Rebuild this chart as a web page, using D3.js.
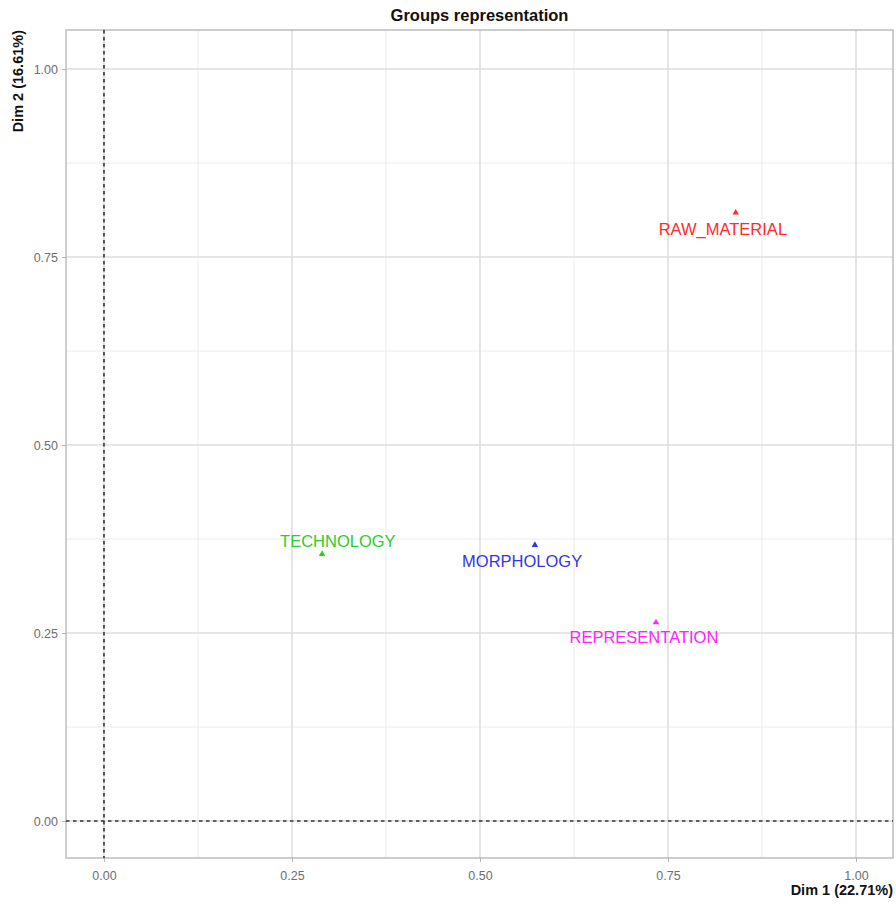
<!DOCTYPE html>
<html><head><meta charset="utf-8">
<script src="https://cdn.jsdelivr.net/npm/d3@7"></script>
<style>body{margin:0;background:#fff}</style>
</head><body>
<script>
const groups = ["RAW_MATERIAL","TECHNOLOGY","MORPHOLOGY","REPRESENTATION"];
const dim1 = [0.840, 0.290, 0.573, 0.734];
const dim2 = [0.809, 0.355, 0.367, 0.264];
const colors = ["#ff2a2a","#2ecc2e","#3333ee","#ff22ff"];
// label offsets (repel-like) in data units
const labelDx = [-0.017, 0.021, -0.017, -0.016];
const labelDy = [-0.022, 0.017, -0.022, -0.019];
const ticks = [0, 0.25, 0.5, 0.75, 1];
const minorTicks = [0.125, 0.375, 0.625, 0.875];
const tickLabels = ["0.00","0.25","0.50","0.75","1.00"];

const W = 896, H = 907;
const svg = d3.select("body").append("svg").attr("width", W).attr("height", H)
  .style("font-family","Arial, 'Liberation Sans', sans-serif");
const L = 66, R = 893, T = 30, B = 858;
const x = d3.scaleLinear().domain([-0.0505, 1.0492]).range([L, R]);
const y = d3.scaleLinear().domain([-0.0492, 1.0519]).range([B, T]);

const g = svg.append("g");
// minor grid
g.selectAll(".mx").data(minorTicks).enter().append("line")
  .attr("x1", d=>x(d)).attr("x2", d=>x(d)).attr("y1", T).attr("y2", B)
  .attr("stroke", "#ececec").attr("stroke-width", 1);
g.selectAll(".my").data(minorTicks).enter().append("line")
  .attr("y1", d=>y(d)).attr("y2", d=>y(d)).attr("x1", L).attr("x2", R)
  .attr("stroke", "#ececec").attr("stroke-width", 1);
// major grid
g.selectAll(".Mx").data(ticks).enter().append("line")
  .attr("x1", d=>x(d)).attr("x2", d=>x(d)).attr("y1", T).attr("y2", B)
  .attr("stroke", "#dedede").attr("stroke-width", 1.6);
g.selectAll(".My").data(ticks).enter().append("line")
  .attr("y1", d=>y(d)).attr("y2", d=>y(d)).attr("x1", L).attr("x2", R)
  .attr("stroke", "#dedede").attr("stroke-width", 1.6);

// panel border
svg.append("rect").attr("x", L).attr("y", T).attr("width", R-L).attr("height", B-T)
  .attr("fill","none").attr("stroke","#b3b3b3").attr("stroke-width",1.3);

// dashed zero lines
svg.append("line").attr("x1", x(0)).attr("x2", x(0)).attr("y1", T).attr("y2", B)
  .attr("stroke","#333").attr("stroke-width",1.6).attr("stroke-dasharray","3.5,3.5");
svg.append("line").attr("y1", y(0)).attr("y2", y(0)).attr("x1", L).attr("x2", R)
  .attr("stroke","#333").attr("stroke-width",1.6).attr("stroke-dasharray","3.5,3.5");

// axes
const fmt = d => tickLabels[ticks.indexOf(d)];
const xAxis = svg.append("g").attr("transform", `translate(0,${B})`)
  .call(d3.axisBottom(x).tickValues(ticks).tickFormat(fmt).tickSize(4).tickPadding(9));
const yAxis = svg.append("g").attr("transform", `translate(${L},0)`)
  .call(d3.axisLeft(y).tickValues(ticks).tickFormat(fmt).tickSize(4).tickPadding(4));
[xAxis, yAxis].forEach(a => {
  a.select(".domain").remove();
  a.selectAll(".tick line").attr("stroke","#b3b3b3");
  a.selectAll(".tick text").attr("fill","#6e6e6e").style("font-size","12.5px").style("font-family","Arial, 'Liberation Sans', sans-serif");
});

// title
svg.append("text").attr("x", (L+R)/2).attr("y", 21).attr("text-anchor","middle")
  .style("font-weight","bold").style("font-size","16.5px").attr("fill","#111").text("Groups representation");
svg.append("text").attr("x", R).attr("y", 895).attr("text-anchor","end")
  .style("font-weight","bold").style("font-size","14.5px").attr("fill","#111").text("Dim 1 (22.71%)");
svg.append("text").attr("transform", `translate(23,${T}) rotate(-90)`).attr("text-anchor","end")
  .style("font-weight","bold").style("font-size","14.5px").attr("fill","#111").text("Dim 2 (16.61%)");

// points
const sym = d3.symbol().type(d3.symbolTriangle).size(18);
svg.selectAll(".pt").data(groups).enter().append("path")
  .attr("d", sym).attr("transform", (d,i)=>`translate(${x(dim1[i])},${y(dim2[i])})`)
  .attr("fill", (d,i)=>colors[i]);
svg.selectAll(".lb").data(groups).enter().append("text")
  .attr("x", (d,i)=>x(dim1[i]+labelDx[i])).attr("y", (d,i)=>y(dim2[i]+labelDy[i]))
  .attr("text-anchor","middle").attr("dy","0.35em")
  .style("font-size","16.5px").attr("fill",(d,i)=>colors[i]).text(d=>d);
</script>
</body></html>
